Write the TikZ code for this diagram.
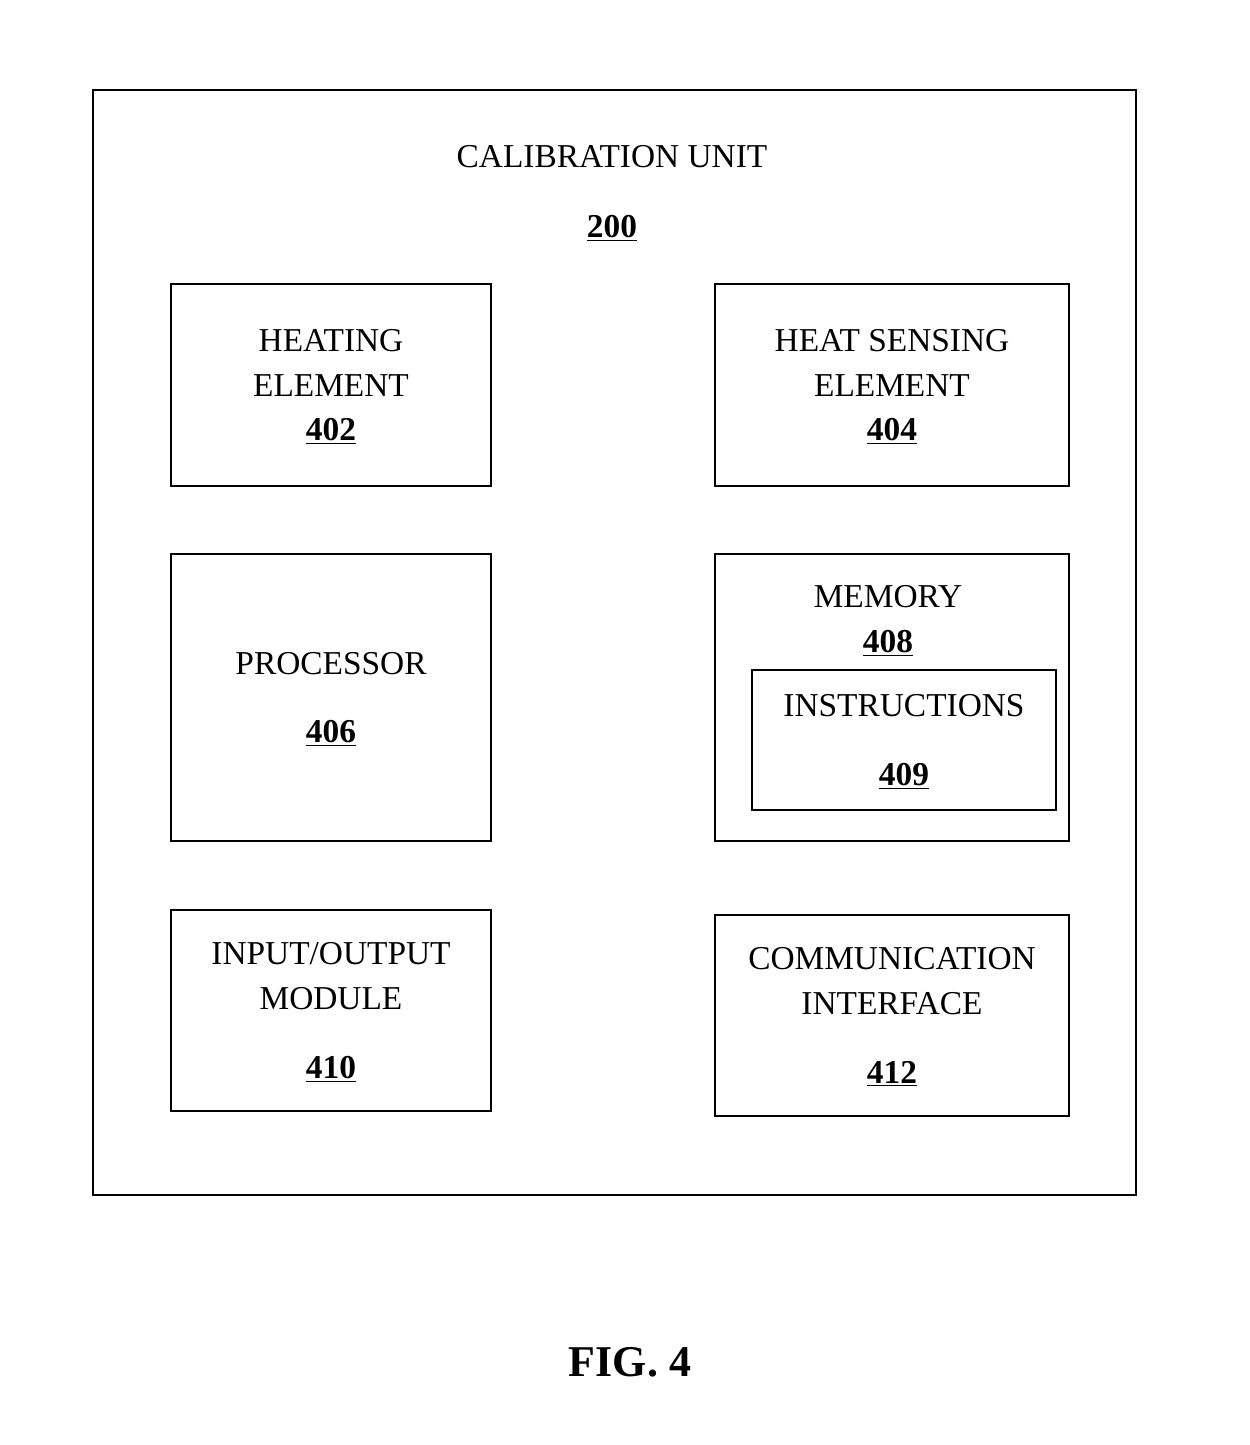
\documentclass[tikz,border=0pt]{standalone}
\usepackage{fontspec}
\setmainfont{Liberation Serif}
\usetikzlibrary{positioning}
\newcommand{\refnum}[1]{\textbf{\underline{#1}}}
\tikzset{
  block/.style={draw,line width=1.1pt,inner sep=0pt,align=center,text depth=0pt,
    font=\fontsize{19}{25.5}\selectfont},
  caption/.style={inner sep=0pt,align=center,text depth=0pt,font=\fontsize{19}{25.5}\selectfont},
}

\begin{document}
\begin{tikzpicture}[x=0.02cm,y=-0.02cm]
  \useasboundingbox (0,0) rectangle (1249,1445);
  % outer unit
  \node[block,minimum width=20.86cm,minimum height=22.1cm] (unit) at (614.5,642.5) {};
  \node[caption] (title) at (612,156) {CALIBRATION UNIT};
  \node[caption] (unitnum) at (612,226) {\refnum{200}};
  % left column
  \node[block,minimum width=6.4cm,minimum height=4.04cm] (heater) at (331,385)
    {HEATING\\ELEMENT\\\refnum{402}};
  \node[block,minimum width=6.4cm,minimum height=5.74cm] (proc) at (331,697.5)
    {PROCESSOR\\[13.6pt]\refnum{406}};
  \node[block,minimum width=6.4cm,minimum height=4.02cm] (io) at (331,1010.5)
    {INPUT/OUTPUT\\MODULE\\[13.6pt]\refnum{410}};
  % right column
  \node[block,minimum width=7.08cm,minimum height=4.04cm] (sensor) at (892,385)
    {HEAT SENSING\\ELEMENT\\\refnum{404}};
  \node[block,minimum width=7.08cm,minimum height=5.74cm] (mem) at (892,697.5) {};
  \node[caption] (memlabel) at (888,619) {MEMORY\\\refnum{408}};
  \node[block,minimum width=6.08cm,minimum height=2.8cm] (instr) at (904,740)
    {INSTRUCTIONS\\[13.6pt]\refnum{409}};
  \node[block,minimum width=7.08cm,minimum height=4.02cm] (comm) at (892,1015.5)
    {COMMUNICATION\\INTERFACE\\[13.6pt]\refnum{412}};
  % figure label
  \node[inner sep=0pt,font=\fontsize{25}{30}\selectfont\bfseries] (fig) at (630,1362) {FIG. 4};
\end{tikzpicture}
\end{document}
